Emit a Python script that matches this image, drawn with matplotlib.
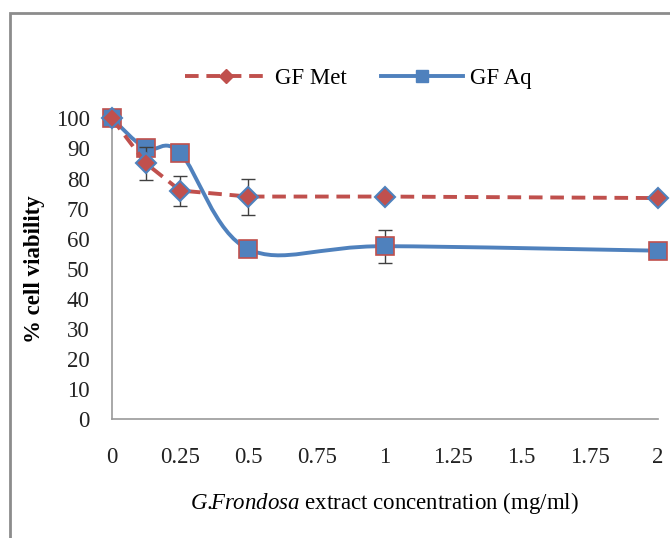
import numpy as np
import matplotlib.pyplot as plt
from matplotlib.path import Path
from matplotlib.patches import PathPatch, Rectangle
from matplotlib.lines import Line2D

plt.rcParams['font.family'] = ['Liberation Serif', 'DejaVu Serif']
plt.rcParams['mathtext.fontset'] = 'custom'
plt.rcParams['mathtext.it'] = 'Liberation Serif:italic'
plt.rcParams['mathtext.rm'] = 'Liberation Serif'

conc = [0, 0.125, 0.25, 0.5, 1, 2]
met = [100, 85, 76, 74, 74, 73.5]
met_err = [0, 5.5, 5, 6, 0, 0]
aq = [100, 90, 88.5, 56.5, 57.5, 56]
aq_err = [0, 0, 0, 0, 5.5, 0]
xticks = [0, 0.25, 0.5, 0.75, 1, 1.25, 1.5, 1.75, 2]
yticks = list(range(0, 101, 10))

red = '#C0504D'
blue = '#4F81BD'


def smooth_path(x, y):
    # Excel-like smoothed line: cubic bezier through the points
    p = np.column_stack([x, y]).astype(float)
    ext = np.vstack([p[0], p, p[-1]])
    verts = [p[0]]
    codes = [Path.MOVETO]
    for i in range(len(p) - 1):
        c1 = ext[i + 1] + (ext[i + 2] - ext[i]) / 6
        c2 = ext[i + 2] - (ext[i + 3] - ext[i + 1]) / 6
        verts += [c1, c2, ext[i + 2]]
        codes += [Path.CURVE4] * 3
    return Path(verts, codes)


fig = plt.figure(figsize=(6.7, 5.38), dpi=100)
fig.patches.append(Rectangle((10 / 670, -0.2), 1.5, 1 - 13 / 538 + 0.2,
                             transform=fig.transFigure, fill=False,
                             edgecolor='#8c8c8c', linewidth=2))
ax = fig.add_axes([0.167, 0.221, 0.815, 0.559])

ax.add_patch(PathPatch(smooth_path(conc, aq), fill=False, edgecolor=blue,
                       linewidth=2.8, clip_on=False, zorder=2))
ax.errorbar(conc, aq, yerr=aq_err, fmt='none', ecolor='#404040',
            elinewidth=1, capsize=5, clip_on=False, zorder=3)
ax.plot(conc, aq, ls='none', marker='s', markersize=13, markerfacecolor=blue,
        markeredgecolor=red, markeredgewidth=1.2, clip_on=False, zorder=4)

ax.errorbar(conc, met, yerr=met_err, fmt='none', ecolor='#404040',
            elinewidth=1, capsize=5, clip_on=False, zorder=5)
ax.plot(conc, met, ls=(0, (3.5, 2)), color=red, linewidth=2.8, marker='D',
        markersize=10, markerfacecolor=red, markeredgecolor=blue,
        markeredgewidth=1.5, clip_on=False, zorder=6)

ax.set_xlim(0, 2)
ax.set_ylim(0, 100)
ax.set_xticks(xticks)
ax.set_xticklabels([f'{v:g}' for v in xticks])
ax.set_yticks(yticks)
ax.tick_params(length=0, labelsize=16.5, colors='#222222')
ax.tick_params(axis='x', pad=20)
ax.tick_params(axis='y', pad=16)
for s in ['top', 'right']:
    ax.spines[s].set_visible(False)
for s in ['left', 'bottom']:
    ax.spines[s].set_color('#999999')
    ax.spines[s].set_linewidth(1.2)

ax.set_ylabel('% cell viability', fontsize=16.5, fontweight='bold', labelpad=8)
ax.set_xlabel(r'$G.\!\!Frondosa$ extract concentration (mg/ml)', fontsize=16.5,
              labelpad=16)

handles = [
    Line2D([], [], color=red, ls=(0, (3.5, 2)), linewidth=2.8, marker='D',
           markersize=7, markerfacecolor=red, markeredgecolor=red),
    Line2D([], [], color=blue, linewidth=2.8, marker='s', markersize=8,
           markerfacecolor=blue, markeredgecolor=blue),
]
fig.legend(handles, ['GF Met', 'GF Aq'], loc='center', ncol=2,
           bbox_to_anchor=(0.535, 0.855), frameon=False, fontsize=16.5,
           handlelength=3.6, handletextpad=0.3, columnspacing=1.5)

fig.savefig('out.png', dpi=100)
